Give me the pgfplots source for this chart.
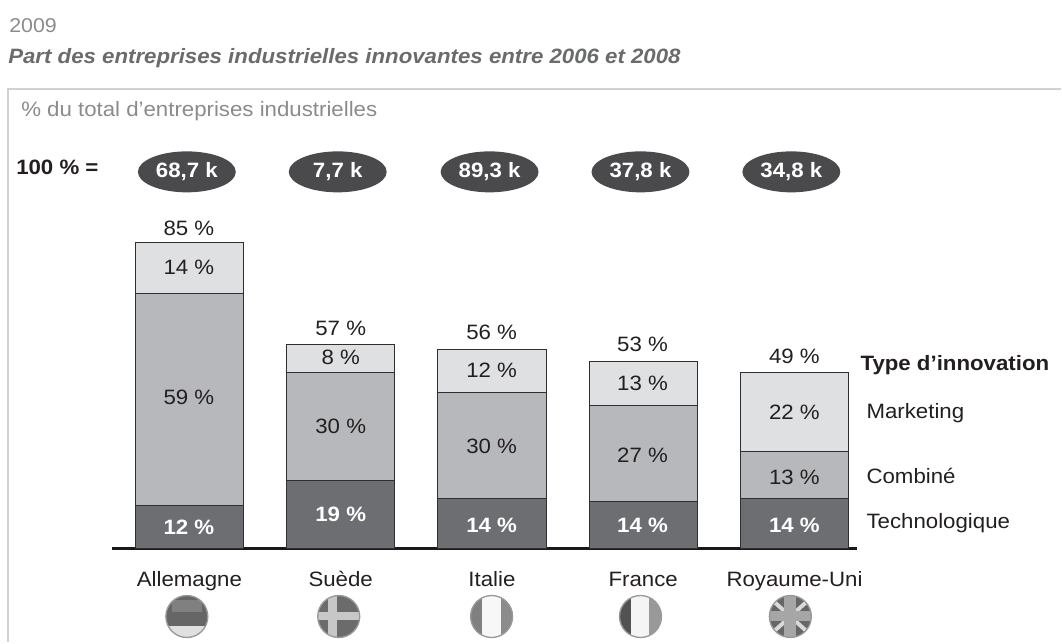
\documentclass[border=0pt]{standalone}
\usepackage{fontspec}
\setmainfont[FakeStretch=1.07]{Liberation Sans}
\usepackage{pgfplots}
\usepackage{pgfplotstable}
\pgfplotsset{compat=1.18}
\definecolor{cdark}{HTML}{6D6E71}
\definecolor{cmid}{HTML}{B7B8BB}
\definecolor{clight}{HTML}{DFE0E2}
\definecolor{cedge}{HTML}{2F2F31}
\definecolor{cpill}{HTML}{4A4A4C}
\definecolor{cgrey}{HTML}{8A8B8D}
\definecolor{ctitle}{HTML}{6A6B6D}
\definecolor{ctext}{HTML}{231F20}
\pgfplotstableread{
x tech comb mark
0 12.0 59.0 14.0
1 19.0 30.0 7.8
2 13.9 29.5 11.9
3 13.1 26.6 12.4
4 14.0 13.0 21.9
}\datatable
\newcommand{\lab}[3]{\node[font=\fontsize{15.6}{15.6}\selectfont,text=ctext,inner sep=0pt] at (#1,#2) {#3};}
\newcommand{\labw}[3]{\node[font=\fontsize{15.6}{15.6}\selectfont\bfseries,text=white,inner sep=0pt] at (#1,#2) {#3};}
\newcommand{\pill}[2]{\fill[cpill] (#1,172) ellipse [x radius=49,y radius=20.5];\node[font=\fontsize{15.6}{15.6}\selectfont\bfseries,text=white,inner sep=0pt] at (#1,172) {#2};}
\begin{document}
\begin{tikzpicture}
\path (0,0) rectangle (796.5pt,482.25pt);
\begin{axis}[
  at={(84pt,70.5pt)}, anchor=south west,
  scale only axis, width=559.5pt, height=270pt,
  xmin=-0.512, xmax=4.415, ymin=0, ymax=100,
  clip=false,
  ybar stacked, bar width=81.4pt,
  axis x line=bottom, axis y line=none,
  axis line style={line width=2.6pt,black!90,-},
  xtick=data,
  xticklabels={Allemagne,Suède,Italie,France,Royaume-Uni},
  xtick style={draw=none},
  xticklabel style={font=\fontsize{15.6}{15.6}\selectfont,text=ctext,yshift=-12pt,text height=11pt,text depth=3pt},
  ytick=\empty,
]
\addplot[fill=cdark,draw=cedge,line width=0.7pt] table[x=x,y=tech] {\datatable};
\addplot[fill=cmid,draw=cedge,line width=0.7pt] table[x=x,y=comb] {\datatable};
\addplot[fill=clight,draw=cedge,line width=0.7pt] table[x=x,y=mark] {\datatable};
\end{axis}
\begin{scope}[x=0.75pt,y=-0.75pt,yshift=482.25pt]
\draw[color=black!18,line width=1.3pt] (1062,89) -- (8,89) -- (8,643);
\node[anchor=west,inner sep=0pt,font=\fontsize{15}{15}\selectfont,text=cgrey] at (9,26) {2009};
\node[anchor=west,inner sep=0pt,font=\fontsize{15.6}{15.6}\selectfont\bfseries\itshape,text=ctitle] at (8,58) {Part des entreprises industrielles innovantes entre 2006 et 2008};
\node[anchor=west,inner sep=0pt,font=\fontsize{15.6}{15.6}\selectfont,text=cgrey] at (21,111) {\% du total d’entreprises industrielles};
\node[anchor=west,inner sep=0pt,font=\fontsize{15.6}{15.6}\selectfont\bfseries,text=ctext] at (16,167) {100 \% =};
\pill{187}{68,7 k}\pill{338}{7,7 k}\pill{490}{89,3 k}\pill{641}{37,8 k}\pill{792}{34,8 k}
\lab{189}{229}{85 \%}\lab{189}{268}{14 \%}\lab{189}{398}{59 \%}\labw{189}{528}{12 \%}
\lab{341}{329}{57 \%}\lab{341}{358}{8 \%}\lab{341}{427}{30 \%}\labw{341}{515}{19 \%}
\lab{492}{333}{56 \%}\lab{492}{371}{12 \%}\lab{492}{447}{30 \%}\labw{492}{526}{14 \%}
\lab{643}{345}{53 \%}\lab{643}{384}{13 \%}\lab{643}{456}{27 \%}\labw{643}{526}{14 \%}
\lab{795}{357}{49 \%}\lab{795}{413}{22 \%}\lab{795}{478}{13 \%}\labw{795}{526}{14 \%}
\node[anchor=west,inner sep=0pt,font=\fontsize{15.6}{15.6}\selectfont\bfseries,text=ctext] at (861,365) {Type d’innovation};
\node[anchor=west,inner sep=0pt,font=\fontsize{15.6}{15.6}\selectfont,text=ctext] at (867,413) {Marketing};
\node[anchor=west,inner sep=0pt,font=\fontsize{15.6}{15.6}\selectfont,text=ctext] at (867,476) {Combiné};
\node[anchor=west,inner sep=0pt,font=\fontsize{15.6}{15.6}\selectfont,text=ctext] at (867,524) {Technologique};
% flags (decoration)
\begin{scope}
\clip (187,617) circle (21);
\fill[black!60] (166,596) rectangle (208,638);
\fill[black!50] (172,600) rectangle (202,612);
\fill[black!12] (166,627) rectangle (208,638);
\end{scope}
\draw[black!40,line width=1pt] (187,617) circle (21);
\begin{scope}
\clip (339,617) circle (21);
\fill[black!58] (318,596) rectangle (360,638);
\fill[black!22] (328,596) rectangle (337,638);
\fill[black!22] (318,612) rectangle (360,621);
\end{scope}
\draw[black!40,line width=1pt] (339,617) circle (21);
\begin{scope}
\clip (492,617) circle (21);
\fill[black!50] (471,596) rectangle (484,638);
\fill[black!3] (482,596) rectangle (502,638);
\fill[black!45] (501,596) rectangle (513,638);
\end{scope}
\draw[black!40,line width=1pt] (492,617) circle (21);
\begin{scope}
\clip (641,617) circle (21);
\fill[black!68] (620,596) rectangle (633,638);
\fill[black!4] (632,596) rectangle (650,638);
\fill[black!40] (650,596) rectangle (662,638);
\end{scope}
\draw[black!40,line width=1pt] (641,617) circle (21);
\begin{scope}
\clip (791,617) circle (21);
\fill[black!60] (770,596) rectangle (812,638);
\draw[black!15,line width=3pt] (770,598) -- (812,636);
\draw[black!15,line width=3pt] (812,598) -- (770,636);
\fill[black!35] (785,596) rectangle (797,638);
\fill[black!35] (770,611) rectangle (812,622);
\end{scope}
\draw[black!40,line width=1pt] (791,617) circle (21);
\end{scope}
\end{tikzpicture}
\end{document}
